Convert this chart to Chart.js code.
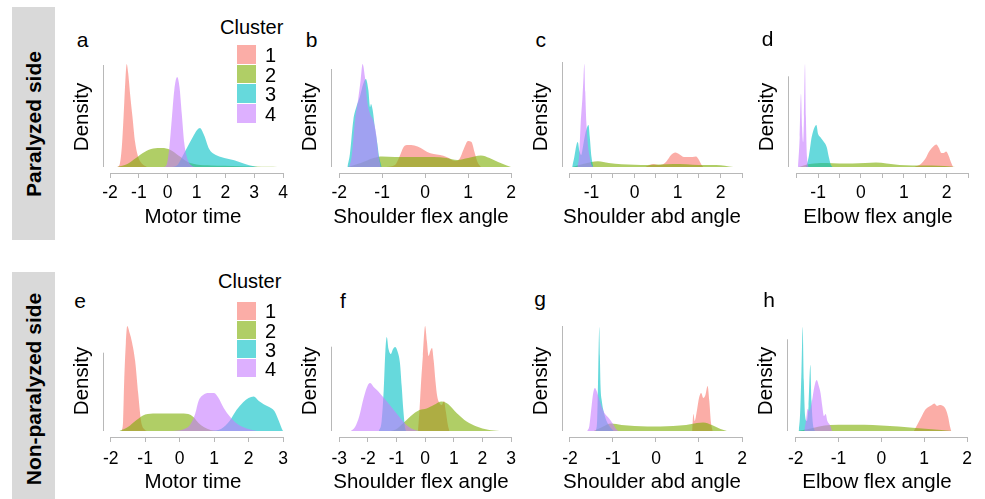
<!DOCTYPE html>
<html><head><meta charset="utf-8">
<script src="https://cdn.jsdelivr.net/npm/chart.js@4.4.0/dist/chart.umd.min.js"></script>
<style>
html,body{margin:0;padding:0;background:#fff;}
body{width:985px;height:499px;position:relative;overflow:hidden;font-family:"Liberation Sans",Arial,Helvetica,sans-serif;color:#000;}
canvas{position:absolute;}
.rowlab{position:absolute;background:#d9d9d9;}
.rowlab span{position:absolute;left:50%;top:50%;transform:translate(-50%,-50%) rotate(-90deg);white-space:nowrap;font-weight:bold;font-size:21px;}
.txt{position:absolute;white-space:nowrap;line-height:1;}
.key{position:absolute;box-sizing:border-box;border-bottom:1px solid #fff;}
</style></head><body>
<script>
// ---------- data (density in arbitrary units) ----------
const clusterNames = ['1','2','3','4'];
const clusterColors = ['#F8766D','#7CAE00','#00BFC4','#C77CFF'];
const rowNames = ['Paralyzed side','Non-paralyzed side'];
const panelLetters = ['a','b','c','d','e','f','g','h'];
const axisTitles = ['Motor time','Shoulder flex angle','Shoulder abd angle','Elbow flex angle',
                    'Motor time','Shoulder flex angle','Shoulder abd angle','Elbow flex angle'];

// tick values and labels
const ticksA = [-2,-1,0,1,2,3,4];            const labelsA = ['-2','-1','0','1','2','3','4'];
const ticksB = [-2,-1,0,1,2];                const labelsB = ['-2','-1','0','1','2'];
const ticksCD = [-1.5,-1,-0.5,0,0.5,1,1.5,2,2.5]; const labelsCD = ['','-1','','0','','1','','2',''];
const ticksE = [-2,-1,0,1,2,3];              const labelsE = ['-2','-1','0','1','2','3'];
const ticksF = [-3,-2,-1,0,1,2,3];           const labelsF = ['-3','-2','-1','0','1','2','3'];
const ticksGH = [-2,-1,0,1,2];               const labelsGH = ['-2','-1','0','1','2'];

// panel a: Motor time, paralyzed side
const a1 = [[-1.75,0],[-1.66,0.03],[-1.59,0.2],[-1.53,0.5],[-1.47,0.85],[-1.42,1.03],[-1.37,0.94],[-1.30,0.72],[-1.22,0.5],[-1.13,0.25],[-1.02,0.1],[-0.88,0.03],[-0.72,0]];
const a2 = [[-1.75,0],[-1.4,0.03],[-1.1,0.09],[-0.8,0.15],[-0.5,0.185],[-0.2,0.19],[0.1,0.17],[0.4,0.11],[0.7,0.05],[1.0,0.025],[1.5,0.015],[2.0,0.012],[2.5,0.008],[3.0,0.005],[3.5,0.002],[3.8,0]];
const a3 = [[0.15,0],[0.33,0.017],[0.5,0.1],[0.74,0.23],[0.91,0.32],[1.02,0.37],[1.12,0.39],[1.26,0.32],[1.44,0.18],[1.61,0.13],[1.85,0.1],[2.08,0.083],[2.31,0.067],[2.66,0.033],[2.99,0.007],[3.13,0]];
const a4 = [[-0.12,0],[-0.03,0.03],[0.06,0.2],[0.14,0.47],[0.23,0.77],[0.33,0.9],[0.41,0.8],[0.49,0.53],[0.58,0.23],[0.7,0.07],[0.85,0.01],[0.95,0]];
// panel b: Shoulder flex angle, paralyzed side
const b1 = [[-0.9,0],[-0.7,0.02],[-0.6,0.1],[-0.5,0.2],[-0.4,0.22],[-0.25,0.215],[-0.1,0.19],[0.05,0.15],[0.2,0.13],[0.35,0.12],[0.5,0.1],[0.7,0.06],[0.8,0.08],[0.9,0.18],[1.0,0.26],[1.08,0.25],[1.15,0.15],[1.22,0.05],[1.3,0]];
const b2 = [[-1.8,0],[-1.5,0.04],[-1.2,0.09],[-1.0,0.105],[-0.7,0.1],[-0.4,0.1],[-0.1,0.1],[0.2,0.1],[0.5,0.09],[0.75,0.07],[1.0,0.09],[1.3,0.115],[1.5,0.09],[1.7,0.05],[1.9,0.015],[2.0,0]];
const b3 = [[-1.81,0],[-1.75,0.13],[-1.67,0.47],[-1.6,0.6],[-1.52,0.7],[-1.44,0.83],[-1.38,0.88],[-1.32,0.77],[-1.28,0.6],[-1.26,0.63],[-1.22,0.57],[-1.17,0.4],[-1.11,0.23],[-1.07,0.1],[-1.01,0]];
const b4 = [[-1.77,0],[-1.71,0.1],[-1.63,0.47],[-1.56,0.67],[-1.5,0.87],[-1.455,1.03],[-1.4,0.9],[-1.35,0.67],[-1.28,0.53],[-1.21,0.47],[-1.14,0.33],[-1.09,0.13],[-1.03,0]];
// panel c: Shoulder abd angle, paralyzed side
const c1 = [[0.25,0],[0.35,0.02],[0.45,0.03],[0.55,0.02],[0.65,0.025],[0.75,0.06],[0.85,0.12],[0.95,0.145],[1.05,0.125],[1.15,0.1],[1.25,0.1],[1.35,0.1],[1.43,0.105],[1.5,0.07],[1.56,0.02],[1.6,0]];
const c2 = [[-1.45,0],[-1.2,0.03],[-1.0,0.05],[-0.85,0.058],[-0.6,0.04],[-0.3,0.028],[0,0.022],[0.3,0.02],[0.6,0.025],[0.9,0.03],[1.2,0.028],[1.5,0.02],[1.8,0.02],[2.0,0.018],[2.2,0.005],[2.3,0]];
const c3 = [[-1.45,0],[-1.4,0.1],[-1.35,0.22],[-1.32,0.25],[-1.28,0.16],[-1.24,0.12],[-1.2,0.2],[-1.15,0.32],[-1.1,0.4],[-1.07,0.42],[-1.04,0.3],[-1.0,0.1],[-0.96,0]];
const c4 = [[-1.33,0],[-1.29,0.1],[-1.25,0.45],[-1.21,0.7],[-1.185,0.9],[-1.167,1.03],[-1.145,0.75],[-1.12,0.45],[-1.09,0.25],[-1.05,0.12],[-1.0,0.02],[-0.95,0]];
// panel d: Elbow flex angle, paralyzed side
const d1 = [[1.25,0],[1.4,0.03],[1.5,0.08],[1.6,0.16],[1.7,0.21],[1.76,0.225],[1.82,0.19],[1.88,0.14],[1.93,0.14],[1.99,0.155],[2.05,0.11],[2.1,0.05],[2.15,0]];
const d2 = [[-1.45,0],[-1.3,0.02],[-1.1,0.035],[-0.8,0.04],[-0.5,0.035],[-0.2,0.035],[0.1,0.04],[0.35,0.045],[0.6,0.035],[0.9,0.02],[1.2,0.015],[1.5,0.015],[1.8,0.012],[2.1,0.005],[2.2,0]];
const d3 = [[-1.28,0],[-1.22,0.1],[-1.15,0.3],[-1.08,0.4],[-1.04,0.42],[-1.0,0.33],[-0.95,0.3],[-0.88,0.26],[-0.8,0.2],[-0.75,0.1],[-0.7,0.02],[-0.66,0]];
const d4 = [[-1.47,0],[-1.43,0.3],[-1.40,0.73],[-1.375,0.4],[-1.35,0.25],[-1.33,0.5],[-1.306,1.03],[-1.285,0.5],[-1.26,0.1],[-1.22,0]];
// panel e: Motor time, non-paralyzed side
const e1 = [[-1.68,0],[-1.64,0.1],[-1.61,0.48],[-1.56,0.88],[-1.52,1.05],[-1.45,0.98],[-1.39,0.9],[-1.29,0.7],[-1.2,0.37],[-1.12,0.1],[-1.0,0.01],[-0.95,0]];
const e2 = [[-1.75,0],[-1.5,0.04],[-1.25,0.11],[-1.0,0.165],[-0.7,0.175],[-0.3,0.175],[0,0.175],[0.25,0.17],[0.4,0.14],[0.55,0.08],[0.7,0.04],[0.9,0.01],[1.2,0]];
const e3 = [[0.9,0],[1.2,0.02],[1.45,0.1],[1.65,0.21],[1.85,0.29],[2.0,0.33],[2.15,0.345],[2.3,0.3],[2.45,0.265],[2.6,0.24],[2.75,0.2],[2.88,0.1],[2.97,0.02],[3.0,0]];
const e4 = [[-0.2,0],[0.1,0.015],[0.3,0.06],[0.45,0.17],[0.55,0.3],[0.7,0.365],[0.85,0.38],[1.0,0.38],[1.13,0.33],[1.28,0.23],[1.47,0.14],[1.66,0.075],[1.95,0.025],[2.25,0]];
// panel f: Shoulder flex angle, non-paralyzed side
const f1 = [[-0.25,0],[-0.2,0.2],[-0.15,0.45],[-0.08,0.75],[0.0,1.05],[0.06,0.9],[0.12,0.75],[0.18,0.8],[0.24,0.83],[0.3,0.7],[0.36,0.5],[0.42,0.35],[0.5,0.28],[0.58,0.26],[0.66,0.3],[0.72,0.2],[0.8,0.05],[0.85,0]];
const f2 = [[-1.2,0],[-1.0,0.02],[-0.76,0.08],[-0.5,0.15],[-0.2,0.21],[0.05,0.225],[0.3,0.26],[0.58,0.295],[0.8,0.27],[1.1,0.18],[1.45,0.095],[1.8,0.045],[2.2,0.012],[2.6,0]];
const f3 = [[-1.62,0],[-1.52,0.1],[-1.45,0.4],[-1.39,0.8],[-1.34,0.94],[-1.28,0.82],[-1.2,0.77],[-1.12,0.82],[-1.05,0.84],[-0.97,0.8],[-0.88,0.68],[-0.82,0.45],[-0.76,0.2],[-0.7,0.03],[-0.66,0]];
const f4 = [[-2.6,0],[-2.45,0.04],[-2.3,0.15],[-2.15,0.33],[-2.0,0.46],[-1.92,0.48],[-1.8,0.44],[-1.65,0.4],[-1.5,0.35],[-1.35,0.3],[-1.15,0.23],[-0.9,0.14],[-0.65,0.06],[-0.4,0.015],[-0.2,0]];
// panel g: Shoulder abd angle, non-paralyzed side
const g1 = [[0.84,0],[0.87,0.17],[0.9,0.1],[0.95,0.2],[1.0,0.33],[1.05,0.38],[1.1,0.33],[1.15,0.36],[1.2,0.45],[1.24,0.3],[1.28,0.08],[1.32,0]];
const g2 = [[-1.45,0],[-1.25,0.04],[-1.05,0.075],[-0.8,0.06],[-0.5,0.05],[-0.2,0.045],[0.1,0.045],[0.4,0.05],[0.7,0.06],[0.95,0.08],[1.1,0.085],[1.3,0.06],[1.5,0.02],[1.65,0]];
const g3 = [[-1.4,0],[-1.37,0.1],[-1.35,0.45],[-1.333,0.85],[-1.319,1.04],[-1.305,0.75],[-1.29,0.45],[-1.26,0.3],[-1.22,0.2],[-1.15,0.1],[-1.05,0.03],[-0.98,0]];
const g4 = [[-1.6,0],[-1.55,0.05],[-1.5,0.24],[-1.46,0.38],[-1.42,0.43],[-1.38,0.4],[-1.33,0.33],[-1.27,0.25],[-1.2,0.18],[-1.1,0.13],[-1.0,0.07],[-0.93,0.02],[-0.88,0]];
// panel h: Elbow flex angle, non-paralyzed side
const h1 = [[0.76,0],[0.86,0.08],[0.94,0.145],[1.02,0.21],[1.1,0.24],[1.18,0.26],[1.24,0.275],[1.3,0.25],[1.36,0.26],[1.42,0.255],[1.5,0.22],[1.56,0.14],[1.6,0.05],[1.63,0]];
const h2 = [[-1.95,0],[-1.7,0.02],[-1.45,0.045],[-1.2,0.06],[-0.8,0.063],[-0.4,0.063],[0,0.055],[0.4,0.045],[0.8,0.03],[1.1,0.02],[1.4,0.01],[1.65,0]];
const h3 = [[-1.93,0],[-1.9,0.15],[-1.865,0.6],[-1.837,1.04],[-1.81,0.5],[-1.78,0.15],[-1.74,0.1],[-1.7,0.25],[-1.658,0.66],[-1.63,0.3],[-1.6,0.08],[-1.55,0]];
const h4 = [[-1.8,0],[-1.76,0.1],[-1.72,0.22],[-1.68,0.2],[-1.62,0.3],[-1.56,0.45],[-1.51,0.51],[-1.46,0.45],[-1.42,0.38],[-1.38,0.25],[-1.34,0.15],[-1.3,0.17],[-1.26,0.1],[-1.2,0.06],[-1.15,0]];

// ---------- layout ----------
const AXIS = '#b8b8b8';
const rows = [{T:61,B:173,H:57,tickPad:5,top:7},{T:325,B:437,H:58,tickPad:7,top:272}];
const panels = [
  {row:0,L:103,R:283,xmin:-2.243,xmax:4,  yTop:1.02, ticks:ticksA, labels:labelsA, series:[a1,a2,a3,a4], lx:82.5, ly:46.7},
  {row:0,L:331,R:511,xmin:-2.19, xmax:2,  yTop:0.98, ticks:ticksB, labels:labelsB, series:[b1,b2,b3,b4], lx:311.7,ly:46.7},
  {row:0,L:562,R:742,xmin:-1.686,xmax:2.5,yTop:1.05, ticks:ticksCD,labels:labelsCD,series:[c1,c2,c3,c4], lx:540.8,ly:46.7},
  {row:0,L:788,R:968,xmin:-1.703,xmax:2.5,yTop:0.907,ticks:ticksCD,labels:labelsCD,series:[d1,d2,d3,d4], lx:767.5,ly:45.5},
  {row:1,L:103,R:283,xmin:-2.223,xmax:3,  yTop:0.783,ticks:ticksE, labels:labelsE, series:[e1,e2,e3,e4], lx:80,   ly:308},
  {row:1,L:331,R:511,xmin:-3.29, xmax:3,  yTop:0.843,ticks:ticksF, labels:labelsF, series:[f1,f2,f3,f4], lx:343,  ly:308},
  {row:1,L:562,R:742,xmin:-2.186,xmax:2,  yTop:1.05, ticks:ticksGH,labels:labelsGH,series:[g1,g2,g3,g4], lx:540,  ly:306},
  {row:1,L:787,R:967,xmin:-2.203,xmax:2,  yTop:0.917,ticks:ticksGH,labels:labelsGH,series:[h1,h2,h3,h4], lx:769,  ly:307}
];
const legends = [{tx:220,tb:34,kx:237,ky:45,kh:19.7},{tx:218,tb:288,kx:237,ky:301.7,kh:19.2}];

function rgba(hex,a){const n=parseInt(hex.slice(1),16);return `rgba(${n>>16},${(n>>8)&255},${n&255},${a})`;}
function addText(str,x,baseline,size,opts={}){
  const d=document.createElement('div');d.className='txt';d.textContent=str;
  d.style.fontSize=size+'px';d.style.left=x+'px';d.style.top=(baseline-0.8465*size)+'px';
  if(opts.center)d.style.transform='translateX(-50%)';
  document.body.appendChild(d);return d;
}

Chart.defaults.font.family='"Liberation Sans", Arial, Helvetica, sans-serif';
Chart.defaults.color='#000';

// R-style axis lines: x axis spans first..last tick, y axis spans 0..yTop
const rAxes={id:'rAxes',afterDraw(chart,args,opts){
  const {ctx,chartArea,scales:{x,y}}=chart;const t=x.ticks;
  ctx.save();ctx.strokeStyle=AXIS;ctx.lineWidth=1;ctx.beginPath();
  const yb=Math.round(x.top)+0.5;
  ctx.moveTo(x.getPixelForValue(t[0].value),yb);ctx.lineTo(x.getPixelForValue(t[t.length-1].value),yb);
  const xl=Math.round(chartArea.left)+0.5;
  ctx.moveTo(xl,y.getPixelForValue(0));ctx.lineTo(xl,y.getPixelForValue(opts.yTop));
  ctx.stroke();ctx.restore();
}};

// row label boxes
rows.forEach((r,i)=>{
  const d=document.createElement('div');d.className='rowlab';
  d.style.left='12px';d.style.top=r.top+'px';d.style.width='43px';d.style.height='233px';
  const s=document.createElement('span');s.textContent=rowNames[i];d.appendChild(s);
  document.body.appendChild(d);
});

panels.forEach((p,i)=>{
  const row=rows[p.row];
  const cv=document.createElement('canvas');
  const left=p.L-33,width=p.R-p.L+33+15,height=row.B-row.T+row.H;
  cv.width=width;cv.height=height;
  cv.style.left=left+'px';cv.style.top=row.T+'px';cv.style.width=width+'px';cv.style.height=height+'px';
  document.body.appendChild(cv);
  new Chart(cv,{
    type:'line',
    data:{datasets:p.series.map((s,k)=>({
      label:clusterNames[k],
      data:s.map(([x,y])=>({x,y})),
      fill:'origin',
      backgroundColor:rgba(clusterColors[k],0.6),
      borderColor:'rgba(0,0,0,0)',borderWidth:0,pointRadius:0,
      cubicInterpolationMode:'monotone',
      order:4-k
    }))},
    options:{
      responsive:false,animation:false,devicePixelRatio:1,
      layout:{padding:{left:0,right:15,top:0,bottom:0}},
      plugins:{legend:{display:false},tooltip:{enabled:false},rAxes:{yTop:p.yTop}},
      scales:{
        x:{type:'linear',min:p.xmin,max:p.xmax,
          afterBuildTicks:s=>{s.ticks=p.ticks.map(v=>({value:v}));},
          afterFit:s=>{s.height=row.H;},
          ticks:{autoSkip:false,maxRotation:0,minRotation:0,padding:row.tickPad,font:{size:17.5},color:'#000',
                 callback:(v,j)=>p.labels[j]},
          grid:{display:true,drawOnChartArea:false,drawTicks:true,tickLength:5,color:AXIS,lineWidth:1},
          border:{display:false},
          title:{display:true,text:axisTitles[i],font:{size:20.5},color:'#000',padding:0}
        },
        y:{min:-0.06,max:1.06,
          ticks:{display:false},grid:{display:false},border:{display:false},
          afterFit:s=>{s.width=33;},
          title:{display:true,text:'Density',font:{size:20.5},color:'#000',padding:0}
        }
      }
    },
    plugins:[rAxes]
  });
  addText(panelLetters[i],p.lx,p.ly,21,{center:true});
});

// legends (one per row)
legends.forEach(g=>{
  addText('Cluster',g.tx,g.tb,20);
  clusterNames.forEach((n,k)=>{
    const b=document.createElement('div');b.className='key';
    b.style.left=g.kx+'px';b.style.top=(g.ky+k*g.kh)+'px';b.style.width='19px';b.style.height=g.kh+'px';
    b.style.background=rgba(clusterColors[k],0.6);
    document.body.appendChild(b);
    addText(n,g.kx+28,g.ky+k*g.kh+g.kh/2+7,20);
  });
});
</script>
</body></html>
